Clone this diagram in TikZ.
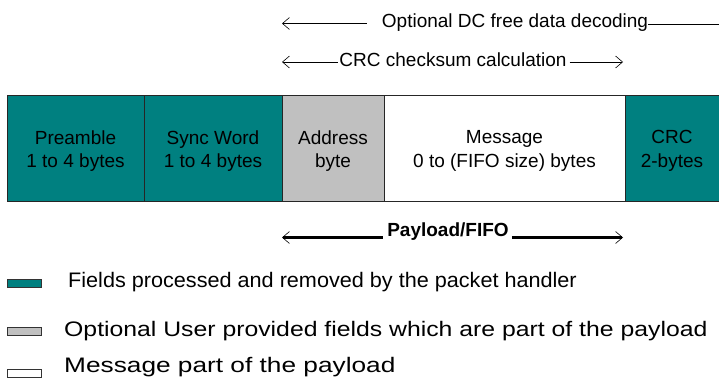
\documentclass[tikz,border=0pt]{standalone}
\usepackage{fontspec}
\setmainfont{Liberation Sans}
\usetikzlibrary{arrows.meta,positioning}
\definecolor{fieldteal}{HTML}{008080}
\definecolor{fieldgray}{HTML}{C0C0C0}

\begin{document}
\begin{tikzpicture}[x=1pt, y=-1pt,
  >={Straight Barb[length=7pt, width=12pt, line width=0.6pt]},
  field/.style={draw=black!85, line width=0.9pt, minimum height=106pt,
    inner sep=0pt, outer sep=0pt},
  fieldtext/.style={align=center, inner sep=0pt, yshift=-3pt,
    font=\fontsize{19}{23.5}\selectfont},
  swatch/.style={draw=black!80, line width=0.8pt, minimum width=34pt,
    minimum height=8pt, inner sep=0pt},
  legtext/.style={anchor=base west, inner sep=0pt},
  lbl/.style={anchor=base, inner sep=0pt, font=\fontsize{19}{23}\selectfont}]
  \useasboundingbox (0,0) rectangle (719,377);

  %% Packet fields
  \node[field, fill=fieldteal, minimum width=137pt, anchor=north west,
    label={[fieldtext]center:{Preamble\\1 to 4 bytes}}] (pre) at (7,95) {};
  \node[field, fill=fieldteal, minimum width=138pt, right=0pt of pre,
    label={[fieldtext]center:{Sync Word\\1 to 4 bytes}}] (sync) {};
  \node[field, fill=fieldgray, minimum width=102pt, right=0pt of sync,
    label={[fieldtext]center:{Address\\byte}}] (addr) {};
  \node[field, fill=white, minimum width=241pt, right=0pt of addr,
    label={[fieldtext]center:{Message\\0 to (FIFO size) bytes}}] (msg) {};
  \node[field, fill=fieldteal, minimum width=94pt, right=0pt of msg,
    label={[fieldtext]center:{CRC\\2-bytes}}] (crc) {};

  %% Ranges above the packet
  \node[lbl] (dc) at (515,28) {Optional DC free data decoding};
  \coordinate (dcL) at (282,23.5);
  \coordinate (dcR) at (719,24.5);
  \draw[<-, line width=0.6pt] (dcL) -- ([xshift=-15pt]dcL -| dc.west);
  \draw[line width=0.6pt] (dcR -| dc.east) -- (dcR);

  \node[lbl] (chk) at (453,66.5) {CRC checksum calculation};
  \coordinate (chkL) at (282,62);
  \coordinate (chkR) at (623,62);
  \draw[<-, line width=0.6pt] (chkL) -- ([xshift=-1pt]chkL -| chk.west);
  \draw[->, line width=0.6pt] ([xshift=3pt]chkR -| chk.east) -- (chkR);

  %% Payload range below
  \node[lbl, font=\bfseries\fontsize{19}{23}\selectfont] (pay) at (448,236.5) {Payload/FIFO};
  \coordinate (payL) at (282,237.5);
  \coordinate (payR) at (623,237.5);
  \draw[<-, line width=2.2pt] (payL) -- ([xshift=-4pt]payL -| pay.west);
  \draw[->, line width=2.2pt] ([xshift=3pt]payR -| pay.east) -- (payR);

  %% Legend
  \node[swatch, fill=fieldteal, anchor=north west] (kteal) at (7,279) {};
  \node[legtext, font={\fontsize{21}{25}\selectfont\addfontfeatures{FakeStretch=1.03}}]
    (tteal) at (68,287) {Fields processed and removed by the packet handler};
  \node[swatch, fill=fieldgray, anchor=north west] (kgray) at (7,327) {};
  \node[legtext, font={\fontsize{21}{25}\selectfont\addfontfeatures{FakeStretch=1.18}}]
    (tgray) at (64,336) {Optional User provided fields which are part of the payload};
  \node[swatch, fill=white, anchor=north west] (kwhite) at (7,369) {};
  \node[legtext, font={\fontsize{21}{25}\selectfont\addfontfeatures{FakeStretch=1.25}}]
    (twhite) at (64,372) {Message part of the payload};
\end{tikzpicture}
\end{document}
